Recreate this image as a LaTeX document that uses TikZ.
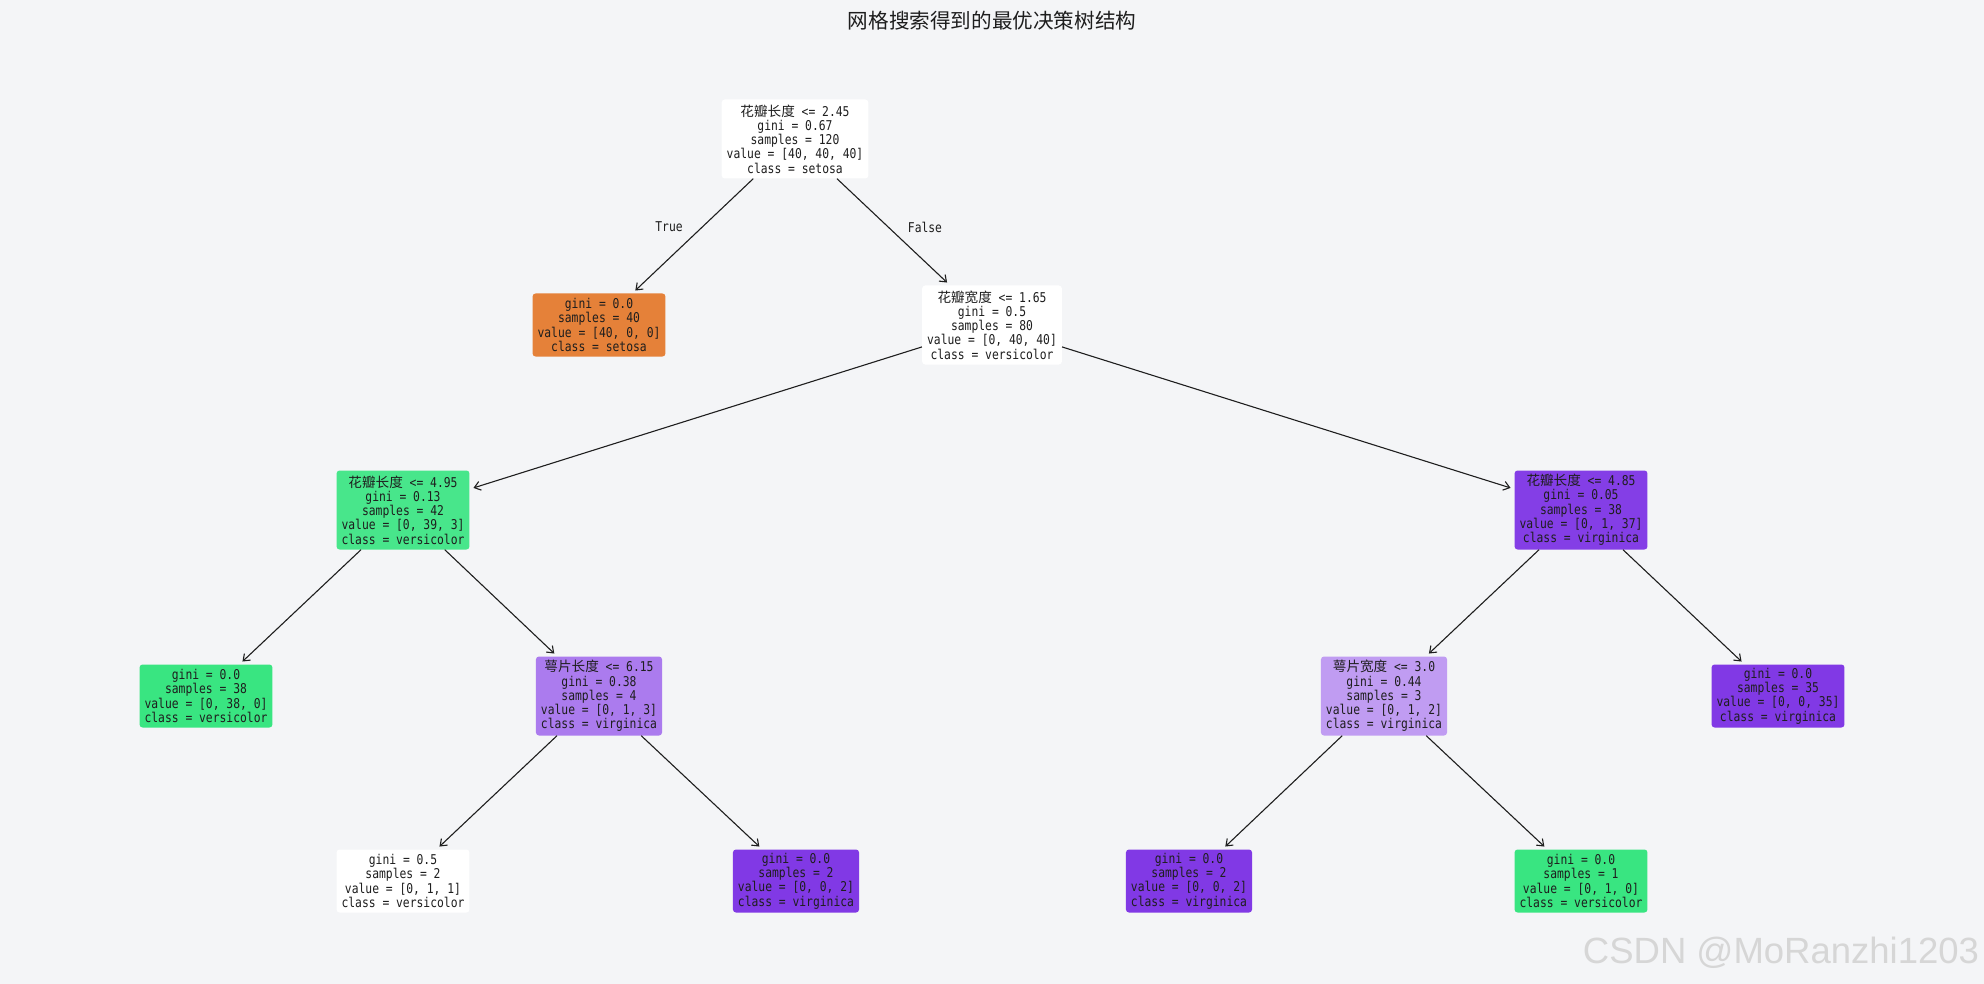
\documentclass[tikz,border=0pt]{standalone}
\usepackage{fontspec}
\setmainfont{DejaVu Sans Mono}[FakeStretch=0.84]
\newfontfamily\cjk{Noto Sans CJK SC}
\newfontfamily\wmfont{Liberation Sans}
\usetikzlibrary{arrows.meta}
\definecolor{bg}{RGB}{244,245,247}
\definecolor{txt}{RGB}{30,30,30}
\definecolor{cwhite}{RGB}{255,255,255}
\definecolor{corange}{RGB}{229,129,57}
\definecolor{cgreen}{RGB}{57,229,129}
\definecolor{cgreenb}{RGB}{72,230,139}
\definecolor{cpurple}{RGB}{129,57,229}
\definecolor{cpurpleb}{RGB}{132,62,230}
\definecolor{cpurplec}{RGB}{171,123,238}
\definecolor{cpurpled}{RGB}{192,156,242}
\definecolor{wmgray}{RGB}{214,214,214}
\newcommand{\zhtxt}[1]{{\cjk\fontsize{13.6}{14.3}\selectfont #1}}
\tikzset{
  tnode/.style={rounded corners=3pt, align=center, text=txt, inner xsep=5pt, inner ysep=1pt,
    font=\fontsize{13.5}{14.3}\selectfont},
  five/.style={tnode, minimum height=79pt},
  four/.style={tnode, minimum height=63pt},
  edge/.style={draw=txt, line width=1.1pt, shorten >=4pt, -{Straight Barb[length=6pt,width=9pt]}},
  elabel/.style={text=txt, font=\fontsize{13.5}{14.3}\selectfont}
}
\begin{document}
\begin{tikzpicture}[x=1pt,y=-1pt]
\fill[bg] (0,0) rectangle (1984,984);
\useasboundingbox (0,0) rectangle (1984,984);
\node[text=txt] (title) at (992,21) {\cjk\fontsize{20.6}{24}\selectfont 网格搜索得到的最优决策树结构};

\node[five, fill=cwhite] (root) at (795,139) {\zhtxt{花瓣长度} <= 2.45\\gini = 0.67\\samples = 120\\value = [40, 40, 40]\\class = setosa};
\node[four, fill=corange] (n2) at (599,325) {gini = 0.0\\samples = 40\\value = [40, 0, 0]\\class = setosa};
\node[five, fill=cwhite] (n3) at (992,325) {\zhtxt{花瓣宽度} <= 1.65\\gini = 0.5\\samples = 80\\value = [0, 40, 40]\\class = versicolor};
\node[five, fill=cgreenb] (n4) at (403,510) {\zhtxt{花瓣长度} <= 4.95\\gini = 0.13\\samples = 42\\value = [0, 39, 3]\\class = versicolor};
\node[five, fill=cpurpleb] (n9) at (1581,510) {\zhtxt{花瓣长度} <= 4.85\\gini = 0.05\\samples = 38\\value = [0, 1, 37]\\class = virginica};
\node[four, fill=cgreen] (n5) at (206,696) {gini = 0.0\\samples = 38\\value = [0, 38, 0]\\class = versicolor};
\node[five, fill=cpurplec] (n6) at (599,696) {\zhtxt{萼片长度} <= 6.15\\gini = 0.38\\samples = 4\\value = [0, 1, 3]\\class = virginica};
\node[five, fill=cpurpled] (n10) at (1384,696) {\zhtxt{萼片宽度} <= 3.0\\gini = 0.44\\samples = 3\\value = [0, 1, 2]\\class = virginica};
\node[four, fill=cpurple] (n12) at (1778,696) {gini = 0.0\\samples = 35\\value = [0, 0, 35]\\class = virginica};
\node[four, fill=cwhite] (n7) at (403,881) {gini = 0.5\\samples = 2\\value = [0, 1, 1]\\class = versicolor};
\node[four, fill=cpurple] (n8) at (796,881) {gini = 0.0\\samples = 2\\value = [0, 0, 2]\\class = virginica};
\node[four, fill=cpurple] (n13) at (1189,881) {gini = 0.0\\samples = 2\\value = [0, 0, 2]\\class = virginica};
\node[four, fill=cgreen] (n14) at (1581,881) {gini = 0.0\\samples = 1\\value = [0, 1, 0]\\class = versicolor};

\draw[edge] (root) -- (n2);
\draw[edge] (root) -- (n3);
\draw[edge] (n3) -- (n4);
\draw[edge] (n3) -- (n9);
\draw[edge] (n4) -- (n5);
\draw[edge] (n4) -- (n6);
\draw[edge] (n6) -- (n7);
\draw[edge] (n6) -- (n8);
\draw[edge] (n9) -- (n10);
\draw[edge] (n9) -- (n12);
\draw[edge] (n10) -- (n13);
\draw[edge] (n10) -- (n14);

\node[elabel] (ltrue) at (669,227) {True};
\node[elabel] (lfalse) at (925,227) {False};

\node[text=wmgray, anchor=base, font=\wmfont\fontsize{36.5}{40}\selectfont] (wm) at (1781,963) {CSDN @MoRanzhi1203};
\end{tikzpicture}
\end{document}
